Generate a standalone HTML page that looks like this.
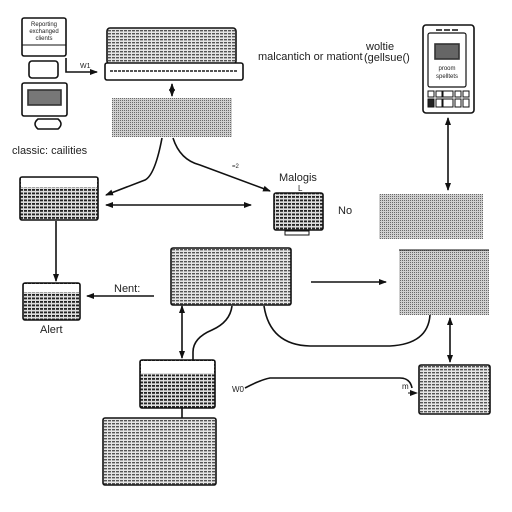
<!DOCTYPE html>
<html><head><style>
html,body{margin:0;padding:0;background:#fff}
svg{display:block}
text{font-family:"Liberation Sans",sans-serif;fill:#222}
</style></head><body>
<svg width="512" height="512" viewBox="0 0 512 512" xmlns="http://www.w3.org/2000/svg">
<defs>
<pattern id="hs" width="4" height="3" patternUnits="userSpaceOnUse"><rect width="4" height="3" fill="#e6e6e6"/><rect width="3" height="1.4" fill="#555"/></pattern>
<pattern id="hd" width="4" height="3.5" patternUnits="userSpaceOnUse"><rect width="4" height="3.5" fill="#ddd"/><rect width="3" height="1.8" fill="#222"/></pattern>
<pattern id="vs" width="2" height="2" patternUnits="userSpaceOnUse"><rect width="2" height="2" fill="#d0d0d0"/><rect width="1" height="1" fill="#6a6a6a"/></pattern>
<marker id="a" markerWidth="8" markerHeight="8" refX="7" refY="4" orient="auto-start-reverse" markerUnits="userSpaceOnUse"><path d="M0,1 L8,4 L0,7 z" fill="#111"/></marker>
</defs>
<g stroke="#111" fill="none" stroke-width="1.6">
<!-- top-left devices -->
<rect x="22" y="18" width="44" height="38" rx="2" fill="#fff"/>
<line x1="22" y1="45" x2="66" y2="45" stroke-width="1"/>
<rect x="29" y="61" width="29" height="17" rx="3" fill="#fff"/>
<rect x="22" y="83" width="45" height="33" rx="2" fill="#fff"/>
<rect x="28" y="90" width="33" height="15" fill="#777" stroke="#333"/>
<path d="M38,119 Q32,124 38,129 L58,129 Q64,124 58,119 Z" fill="#fff"/>
<path d="M66,58 V72 H97" marker-end="url(#a)"/>
<!-- top box -->
<rect x="107" y="28" width="129" height="36" rx="3" fill="url(#hs)"/>
<rect x="105" y="63" width="138" height="17" rx="2" fill="#fff"/>
<line x1="110" y1="71" x2="238" y2="71" stroke="#555" stroke-width="2" stroke-dasharray="3,1"/>
<line x1="172" y1="84" x2="172" y2="96" marker-end="url(#a)" marker-start="url(#a)"/>
<rect x="112" y="98" width="120" height="39" fill="url(#vs)" stroke="none"/>
<path d="M162,138 Q155,175 145,180 L106,195" marker-end="url(#a)"/>
<path d="M173,138 Q180,160 200,165 L270,191" marker-end="url(#a)"/>
<!-- left keyboard box -->
<rect x="20" y="177" width="78" height="43" rx="2" fill="url(#hd)"/>
<rect x="21" y="178" width="76" height="9" fill="#fff" stroke="none"/>
<line x1="106" y1="205" x2="251" y2="205" marker-end="url(#a)" marker-start="url(#a)"/>
<!-- Malogis box -->
<rect x="274" y="193" width="49" height="37" rx="2" fill="url(#hd)"/>
<rect x="285" y="231" width="24" height="4" fill="#fff" stroke-width="1"/>
<!-- phone -->
<rect x="423" y="25" width="51" height="88" rx="3" fill="#fff"/>
<rect x="428" y="33" width="38" height="54" rx="2" fill="#fff" stroke-width="1.2"/>
<rect x="435" y="44" width="24" height="15" fill="#666" stroke="#333"/>
<line x1="436" y1="30" x2="460" y2="30" stroke-width="1.6" stroke-dasharray="6,2"/>
<g stroke-width="1" fill="#fff">
<rect x="428" y="91" width="6" height="6"/><rect x="436" y="91" width="6" height="6"/><rect x="443" y="91" width="10" height="6"/><rect x="455" y="91" width="6" height="6"/><rect x="463" y="91" width="6" height="6"/>
<rect x="428" y="99" width="6" height="8" fill="#222"/><rect x="436" y="99" width="6" height="8"/><rect x="443" y="99" width="10" height="8"/><rect x="455" y="99" width="6" height="8"/><rect x="463" y="99" width="6" height="8"/>
</g>
<line x1="448" y1="118" x2="448" y2="190" marker-end="url(#a)" marker-start="url(#a)"/>
<rect x="379" y="194" width="104" height="45" fill="url(#vs)" stroke="none"/>
<!-- middle box -->
<rect x="171" y="248" width="120" height="57" rx="2" fill="url(#hs)"/>
<line x1="311" y1="282" x2="386" y2="282" marker-end="url(#a)"/>
<rect x="399" y="250" width="90" height="65" fill="url(#vs)" stroke="none"/>
<line x1="399" y1="250" x2="489" y2="250" stroke-width="1"/>
<line x1="56" y1="221" x2="56" y2="281" marker-end="url(#a)"/>
<rect x="23" y="283" width="57" height="37" rx="2" fill="url(#hd)"/>
<rect x="24" y="284" width="55" height="8" fill="#fff" stroke="none"/>
<line x1="154" y1="296" x2="87" y2="296" marker-end="url(#a)"/>
<line x1="182" y1="306" x2="182" y2="358" marker-end="url(#a)" marker-start="url(#a)"/>
<path d="M232,306 Q230,322 212,330 Q193,338 193,352 V360"/>
<path d="M264,306 Q270,345 310,346 L390,346 Q428,344 430,315"/>
<line x1="450" y1="318" x2="450" y2="362" marker-end="url(#a)" marker-start="url(#a)"/>
<!-- bottom -->
<rect x="140" y="360" width="75" height="48" rx="2" fill="url(#hd)"/>
<rect x="141" y="361" width="73" height="12" fill="#fff" stroke="none"/>
<line x1="182" y1="408" x2="182" y2="418"/>
<rect x="103" y="418" width="113" height="67" rx="2" fill="url(#hs)"/>
<path d="M245,388 Q260,380 270,378 L400,378 Q410,378 412,388"/>
<line x1="408" y1="393" x2="417" y2="393" stroke-width="1" marker-end="url(#a)"/>
<rect x="419" y="365" width="71" height="49" rx="2" fill="url(#hs)"/>
</g>
<g font-size="6" text-anchor="middle">
<text x="44" y="26">Reporting</text><text x="44" y="33">exchanged</text><text x="44" y="40">clients</text>
<text x="447" y="70">proom</text><text x="447" y="78">spelltets</text>
</g>
<text x="80" y="68" font-size="7">W1</text>
<text x="12" y="154" font-size="11">classic: cailities</text>
<text x="258" y="60" font-size="11">malcantich or mationt</text>
<text x="366" y="50" font-size="11">woltie</text>
<text x="364" y="61" font-size="11">(gellsue()</text>
<text x="232" y="168" font-size="6">=2</text>
<text x="279" y="181" font-size="11">Malogis</text>
<text x="298" y="191" font-size="8">L</text>
<text x="338" y="214" font-size="11">No</text>
<text x="114" y="292" font-size="11">Nent:</text>
<text x="40" y="333" font-size="11">Alert</text>
<text x="232" y="392" font-size="8">W0</text>
<text x="402" y="389" font-size="8">m</text>
</svg>
</body></html>
